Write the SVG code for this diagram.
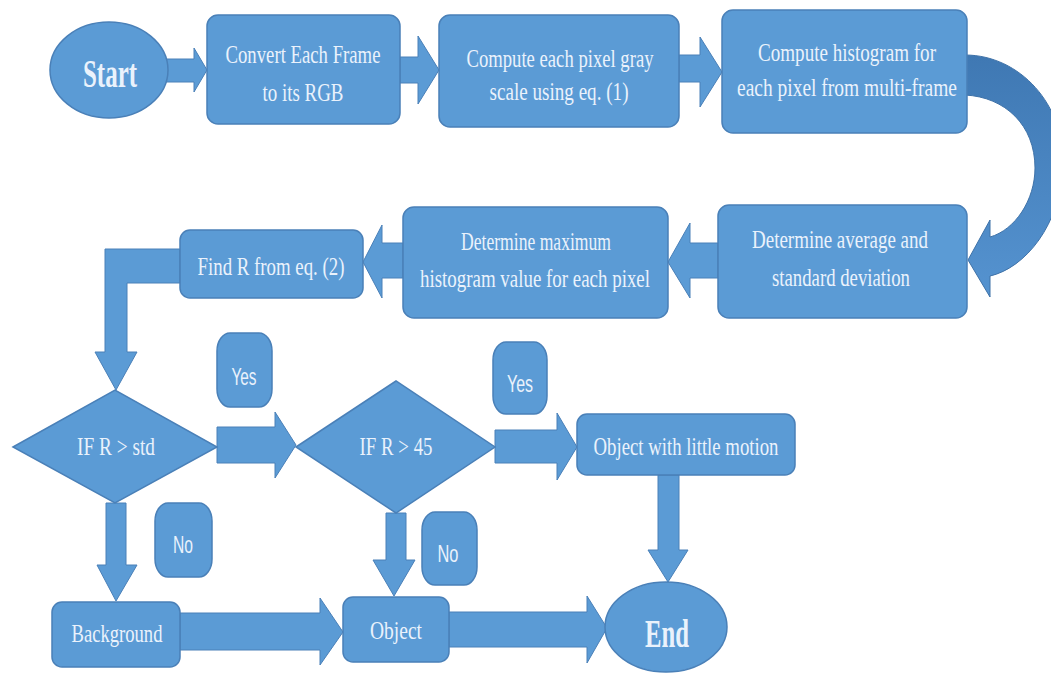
<svg xmlns="http://www.w3.org/2000/svg" width="1051" height="673" viewBox="0 0 1051 673">
<defs>
<linearGradient id="curveGrad" x1="0" y1="0" x2="0" y2="1">
<stop offset="0" stop-color="#3f78b3"/>
<stop offset="1" stop-color="#5593d0"/>
</linearGradient>
<style>
.shape{fill:#5b9bd5;stroke:#4a80b8;stroke-width:1.5}
.conn{fill:#5b9bd5;stroke:#4a80b8;stroke-width:1}
.t{font-family:"Liberation Serif","Times New Roman",serif;font-size:26px;fill:#eaf2fc;text-anchor:middle}
.tb{font-family:"Liberation Serif","Times New Roman",serif;font-size:40px;font-weight:bold;fill:#eaf2fc;text-anchor:middle}
.ts{font-family:"Liberation Sans",Arial,sans-serif;font-size:24px;fill:#eaf2fc;text-anchor:middle}
</style>
</defs>
<rect width="1051" height="673" fill="#ffffff"/>

<g id="connectors">
<polygon class="conn" points="166,59 194,59 194,48 207,70 194,92 194,82 166,82"/>
<polygon class="conn" points="400,57 418,57 418,36 439,70 418,104 418,83 400,83"/>
<polygon class="conn" points="679,55 700,55 700,37 722,72 700,107 700,82 679,82"/>
<path d="M 965 55 C 1020 55, 1065 105, 1063 165 C 1061 225, 1025 268, 990 276 L 990 297 L 968 260 L 990 220 L 990 237 C 1015 230, 1035 200, 1035 168 C 1035 125, 1005 97, 965 95 Z" fill="url(#curveGrad)" stroke="#3f72a8" stroke-width="1"/>
<polygon class="conn" points="718,243 690,243 690,223 668,262 690,298 690,278 718,278"/>
<polygon class="conn" points="403,243 382,243 382,225 363,262 382,298 382,278 403,278"/>
<polygon class="conn" points="180,249 105,249 105,352 95,352 116,390 137,352 127,352 127,283 180,283"/>
<polygon class="conn" points="217,427 275,427 275,412 296,445 275,478 275,463 217,463"/>
<polygon class="conn" points="495,430 557,430 557,413 577,447 557,480 557,463 495,463"/>
<polygon class="conn" points="658,475 679,475 679,550 688,550 668,582 648,550 658,550"/>
<polygon class="conn" points="106,503 126,503 126,565 137,565 116,601 97,565 106,565"/>
<polygon class="conn" points="386,513 406,513 406,560 415,560 394,596 373,560 386,560"/>
<polygon class="conn" points="180,613 320,613 320,598 343,632 320,665 320,650 180,650"/>
<polygon class="conn" points="449,612 587,612 587,596 607,628 587,663 587,647 449,647"/>
</g>

<g id="start">
<ellipse class="shape" cx="109" cy="70" rx="59" ry="48"/>
<text class="tb" x="110" y="87" textLength="54" lengthAdjust="spacingAndGlyphs">Start</text>
</g>
<g id="convert">
<rect class="shape" x="207" y="15" width="193" height="109" rx="11"/>
<text class="t" x="303" y="63" textLength="155" lengthAdjust="spacingAndGlyphs">Convert Each Frame</text>
<text class="t" x="303" y="101" textLength="81" lengthAdjust="spacingAndGlyphs">to its RGB</text>
</g>
<g id="gray">
<rect class="shape" x="439" y="15" width="240" height="112" rx="11"/>
<text class="t" x="560" y="67" textLength="187" lengthAdjust="spacingAndGlyphs">Compute each pixel gray</text>
<text class="t" x="559" y="100" textLength="139" lengthAdjust="spacingAndGlyphs">scale using eq. (1)</text>
</g>
<g id="histogram">
<rect class="shape" x="722" y="10" width="245" height="123" rx="11"/>
<text class="t" x="847" y="61" textLength="178" lengthAdjust="spacingAndGlyphs">Compute histogram for</text>
<text class="t" x="847" y="96" textLength="220" lengthAdjust="spacingAndGlyphs">each pixel from multi-frame</text>
</g>
<g id="average">
<rect class="shape" x="718" y="205" width="249" height="113" rx="11"/>
<text class="t" x="840" y="248" textLength="176" lengthAdjust="spacingAndGlyphs">Determine average and</text>
<text class="t" x="841" y="286" textLength="138" lengthAdjust="spacingAndGlyphs">standard deviation</text>
</g>
<g id="maximum">
<rect class="shape" x="403" y="207" width="265" height="111" rx="11"/>
<text class="t" x="536" y="250" textLength="150" lengthAdjust="spacingAndGlyphs">Determine maximum</text>
<text class="t" x="535" y="287" textLength="230" lengthAdjust="spacingAndGlyphs">histogram value for each pixel</text>
</g>
<g id="findR">
<rect class="shape" x="180" y="230" width="183" height="68" rx="10"/>
<text class="t" x="271" y="275" textLength="147" lengthAdjust="spacingAndGlyphs">Find R from eq. (2)</text>
</g>
<g id="decision1">
<polygon class="shape" points="13,447 115,390 217,447 115,503"/>
<text class="t" x="116" y="455" textLength="78" lengthAdjust="spacingAndGlyphs">IF R &gt; std</text>
</g>
<g id="decision2">
<polygon class="shape" points="296,447 396,381 495,447 396,513"/>
<text class="t" x="396" y="455" textLength="73" lengthAdjust="spacingAndGlyphs">IF R &gt; 45</text>
</g>
<g id="yes1">
<rect class="shape" x="217" y="333" width="55" height="74" rx="13" ry="18"/>
<text class="ts" x="244" y="385" textLength="25" lengthAdjust="spacingAndGlyphs">Yes</text>
</g>
<g id="yes2">
<rect class="shape" x="493" y="342" width="54" height="72" rx="13" ry="18"/>
<text class="ts" x="520" y="392" textLength="26" lengthAdjust="spacingAndGlyphs">Yes</text>
</g>
<g id="no1">
<rect class="shape" x="155" y="503" width="57" height="74" rx="13" ry="18"/>
<text class="ts" x="183" y="553" textLength="20" lengthAdjust="spacingAndGlyphs">No</text>
</g>
<g id="no2">
<rect class="shape" x="422" y="512" width="55" height="73" rx="13" ry="18"/>
<text class="ts" x="448" y="562" textLength="21" lengthAdjust="spacingAndGlyphs">No</text>
</g>
<g id="littleMotion">
<rect class="shape" x="577" y="414" width="218" height="61" rx="10"/>
<text class="t" x="686" y="455" textLength="185" lengthAdjust="spacingAndGlyphs">Object with little motion</text>
</g>
<g id="background">
<rect class="shape" x="52" y="602" width="128" height="65" rx="10"/>
<text class="t" x="117" y="642" textLength="91" lengthAdjust="spacingAndGlyphs">Background</text>
</g>
<g id="object">
<rect class="shape" x="343" y="597" width="106" height="65" rx="10"/>
<text class="t" x="396" y="639" textLength="52" lengthAdjust="spacingAndGlyphs">Object</text>
</g>
<g id="end">
<ellipse class="shape" cx="666" cy="627" rx="61" ry="45"/>
<text class="tb" x="667" y="647" textLength="44" lengthAdjust="spacingAndGlyphs">End</text>
</g>
</svg>
